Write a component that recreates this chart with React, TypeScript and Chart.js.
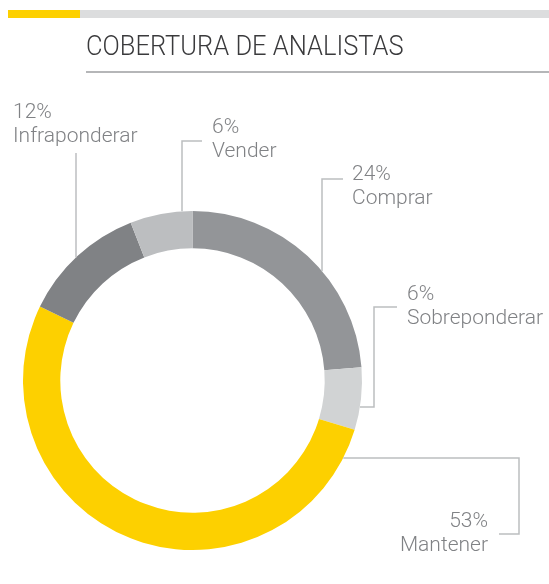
import React, { useEffect, useRef } from "react";
import { Chart, registerables } from "chart.js";

Chart.register(...registerables);

const categories = ["Comprar", "Sobreponderar", "Mantener", "Infraponderar", "Vender"];
const values = [24, 6, 53, 12, 6];
const percentLabels = ["24%", "6%", "53%", "12%", "6%"];
const colors = ["#939598", "#d1d3d4", "#fdd000", "#808285", "#bcbec0"];
const title = "COBERTURA DE ANALISTAS";

const LABEL_FONT = "300 21px Roboto";
const LABEL_COLOR = "#808285";
const LINE_COLOR = "#bcbec0";

// label anchor (text x, first baseline), alignment and leader path description
const labelLayout = [
  { x: 352, y: 180, align: "left", leader: (ctx: any, ring: any) => {
      ctx.moveTo(343, 179); ctx.lineTo(322, 179); ctx.lineTo(322, ring.yAtX(322, -1));
    } },
  { x: 407, y: 300, align: "left", leader: (ctx: any, ring: any) => {
      ctx.moveTo(397, 307); ctx.lineTo(374, 307); ctx.lineTo(374, 407); ctx.lineTo(ring.xAtY(407, 1), 407);
    } },
  { x: 488, y: 527, align: "right", leader: (ctx: any, ring: any) => {
      ctx.moveTo(499, 534); ctx.lineTo(519, 534); ctx.lineTo(519, 458); ctx.lineTo(ring.xAtY(458, 1), 458);
    } },
  { x: 13, y: 118, align: "left", leader: (ctx: any, ring: any) => {
      ctx.moveTo(76, 153); ctx.lineTo(76, ring.yAtX(76, -1));
    } },
  { x: 212, y: 133, align: "left", leader: (ctx: any, ring: any) => {
      ctx.moveTo(202, 141); ctx.lineTo(182, 141); ctx.lineTo(182, ring.yAtX(182, -1));
    } },
];

const decorPlugin = {
  id: "decor",
  afterDraw(chart: any) {
    const ctx = chart.ctx;
    const arc = chart.getDatasetMeta(0).data[0];
    const cx = arc.x, cy = arc.y, r = arc.outerRadius;
    const ring = {
      yAtX: (x: number, s: number) => cy + s * Math.sqrt(Math.max(0, r * r - (x - cx) * (x - cx))),
      xAtY: (y: number, s: number) => cx + s * Math.sqrt(Math.max(0, r * r - (y - cy) * (y - cy))),
    };
    ctx.save();
    // top bar
    ctx.fillStyle = "#dcddde";
    ctx.fillRect(80, 10, 469, 8);
    ctx.fillStyle = "#fdd000";
    ctx.fillRect(8, 10, 72, 8);
    // title (condensed horizontally to match a DIN-like width)
    ctx.save();
    ctx.fillStyle = "#3a3a3c";
    ctx.font = "300 28px Roboto";
    ctx.textAlign = "left";
    ctx.textBaseline = "alphabetic";
    ctx.translate(86, 55);
    ctx.scale(0.91, 1);
    ctx.fillText(title, 0, 0);
    ctx.restore();
    ctx.fillStyle = "#b5b6b8";
    ctx.fillRect(86, 71, 463, 2);
    // leaders
    ctx.strokeStyle = LINE_COLOR;
    ctx.lineWidth = 1.5;
    labelLayout.forEach((l) => {
      ctx.beginPath();
      l.leader(ctx, ring);
      ctx.stroke();
    });
    // labels
    ctx.fillStyle = LABEL_COLOR;
    ctx.font = LABEL_FONT;
    ctx.textBaseline = "alphabetic";
    labelLayout.forEach((l, i) => {
      ctx.textAlign = l.align;
      ctx.fillText(percentLabels[i], l.x, l.y);
      ctx.fillText(categories[i], l.x, l.y + 24);
    });
    ctx.restore();
  },
};

export default function App() {
  const ref = useRef<HTMLCanvasElement>(null);
  useEffect(() => {
    if (!ref.current) return;
    const chart = new Chart(ref.current, {
      type: "doughnut",
      data: {
        labels: categories,
        datasets: [{ data: values, backgroundColor: colors, borderWidth: 0 }],
      },
      options: {
        animation: false,
        responsive: false,
        cutout: "78%",
        layout: { padding: { left: 23, top: 211, right: 187, bottom: 34 } },
        plugins: { legend: { display: false }, tooltip: { enabled: false }, title: { display: false } },
      },
      plugins: [decorPlugin],
    });
    return () => chart.destroy();
  }, []);
  return (
    <div style={{ position: "absolute", left: 0, top: 0, width: 549, height: 584, background: "#fff" }}>
      <canvas ref={ref} width={549} height={584} style={{ display: "block" }} />
    </div>
  );
}
